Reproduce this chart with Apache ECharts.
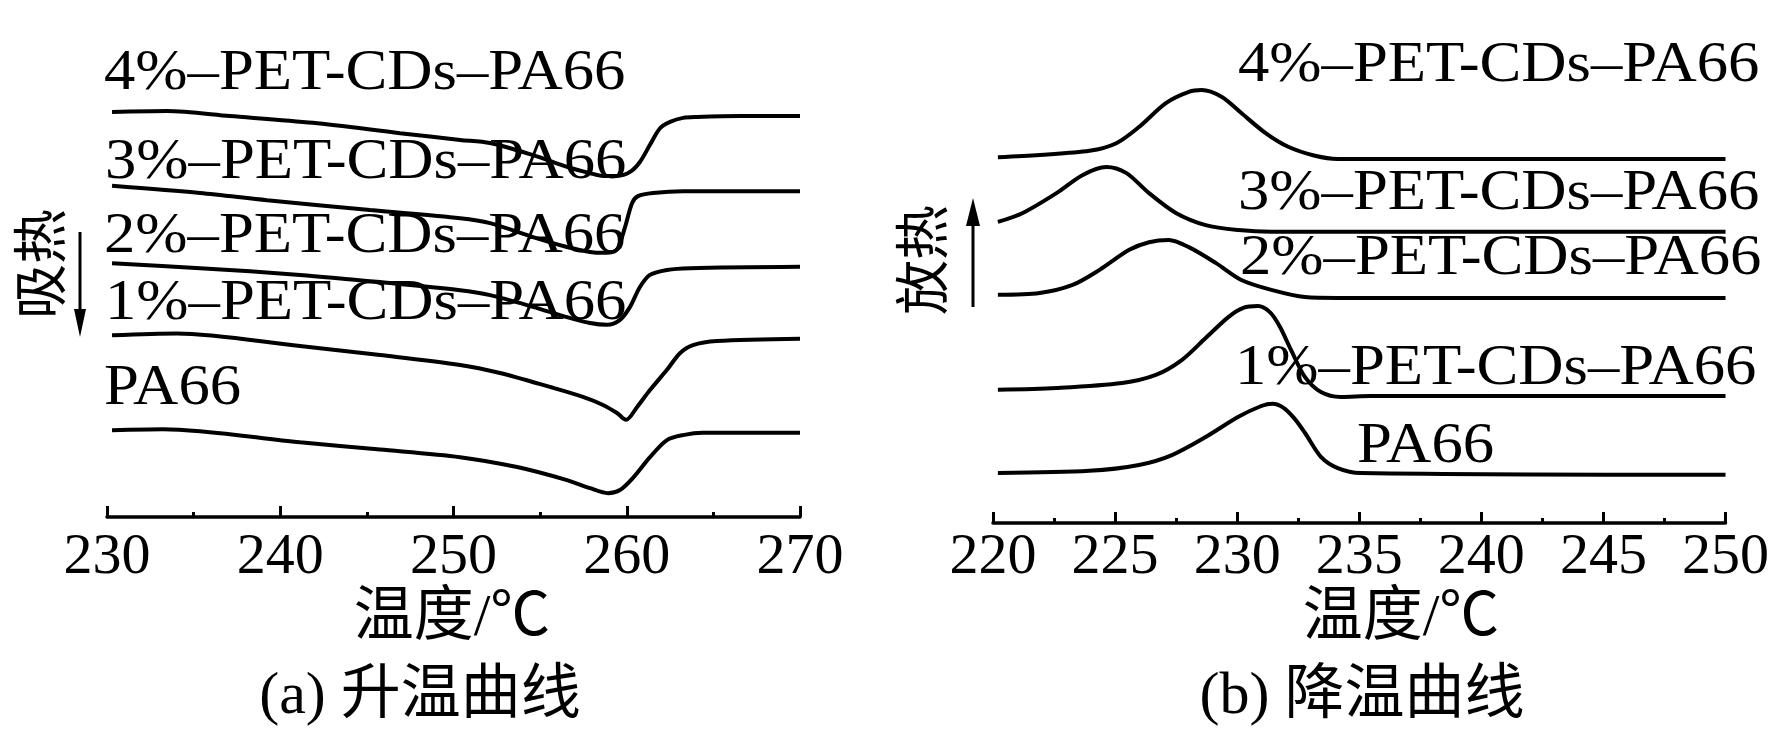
<!DOCTYPE html>
<html>
<head>
<meta charset="utf-8">
<script src="https://cdn.jsdelivr.net/npm/echarts@6/dist/echarts.min.js"></script>
<style>
html,body{margin:0;padding:0;background:#fff;}
#chart{width:1772px;height:749px;}
</style>
</head>
<body>
<div id="chart"></div>
<script>
// ---------- (a) heating curves: temperature (°C) and heat flow (a.u., endotherm down) ----------
const heatingTicks = [230, 240, 250, 260, 270];
const seriesNames = ['4%–PET-CDs–PA66', '3%–PET-CDs–PA66', '2%–PET-CDs–PA66', '1%–PET-CDs–PA66', 'PA66'];

const tA4 = [230.29, 233.46, 237.10, 241.89, 246.91, 250.38, 252.11, 254.59, 256.55, 257.88, 258.63, 259.44, 260.19, 260.76, 261.34, 261.92, 262.50, 263.25, 264.05, 266.54, 270.00];
const hA4 = [9.00, 9.02, 8.91, 8.76, 8.53, 8.38, 8.31, 8.04, 7.78, 7.64, 7.58, 7.58, 7.67, 7.89, 8.27, 8.64, 8.78, 8.87, 8.89, 8.91, 8.91];

const tA3 = [230.29, 235.37, 239.24, 245.18, 250.38, 252.11, 254.59, 256.55, 257.88, 258.63, 259.21, 259.50, 259.90, 260.31, 260.65, 261.52, 263.25, 270.00];
const hA3 = [7.36, 7.20, 7.04, 6.82, 6.64, 6.53, 6.22, 6.00, 5.89, 5.87, 5.89, 5.98, 6.44, 6.98, 7.13, 7.20, 7.24, 7.24];

const tA2 = [230.29, 235.37, 241.14, 245.76, 250.38, 252.11, 254.59, 256.55, 257.88, 258.86, 259.61, 260.19, 260.76, 261.34, 262.32, 263.65, 270.00];
const hA2 = [5.64, 5.53, 5.38, 5.22, 5.04, 4.93, 4.67, 4.44, 4.31, 4.27, 4.38, 4.67, 5.11, 5.38, 5.49, 5.53, 5.56];

const tA1 = [230.29, 234.04, 241.14, 245.76, 250.38, 252.68, 255.57, 257.47, 258.63, 259.44, 259.96, 260.59, 261.34, 262.32, 263.07, 263.82, 265.21, 270.00];
const hA1 = [4.04, 4.08, 3.80, 3.60, 3.38, 3.20, 2.89, 2.67, 2.49, 2.31, 2.16, 2.44, 2.82, 3.27, 3.64, 3.82, 3.91, 3.96];

const tA0 = [230.29, 233.23, 241.14, 245.76, 250.38, 253.67, 256.55, 257.88, 258.92, 259.61, 260.36, 261.34, 262.32, 263.25, 264.40, 270.00];
const hA0 = [1.93, 1.95, 1.66, 1.50, 1.33, 1.11, 0.82, 0.64, 0.53, 0.60, 0.87, 1.33, 1.71, 1.82, 1.87, 1.87];

// ---------- (b) cooling curves: temperature (°C) and heat flow (a.u., exotherm up) ----------
const coolingTicks = [220, 225, 230, 235, 240, 245, 250];

const tB4 = [220.20, 221.91, 223.95, 225.05, 225.98, 227.08, 228.02, 228.55, 229.36, 230.17, 231.15, 232.09, 233.19, 234.12, 236.16, 250.00];
const hB4 = [8.13, 8.18, 8.27, 8.44, 8.80, 9.33, 9.58, 9.62, 9.47, 9.11, 8.67, 8.36, 8.16, 8.09, 8.09, 8.09];

const tB3 = [220.20, 221.22, 222.60, 223.66, 224.64, 225.45, 226.39, 227.49, 228.71, 230.05, 231.40, 236.16, 250.00];
const hB3 = [6.69, 6.89, 7.33, 7.73, 7.91, 7.78, 7.33, 6.89, 6.62, 6.51, 6.47, 6.47, 6.47];

const tB2 = [220.20, 221.91, 223.26, 224.35, 225.58, 226.39, 227.20, 228.02, 229.12, 230.17, 231.40, 232.78, 234.12, 250.00];
const hB2 = [5.07, 5.11, 5.29, 5.62, 6.07, 6.24, 6.29, 6.13, 5.78, 5.40, 5.18, 5.02, 5.00, 5.00];

const tB1 = [220.20, 222.60, 225.29, 226.67, 227.73, 228.71, 229.65, 230.25, 230.85, 231.35, 231.75, 232.21, 232.78, 233.43, 234.25, 235.47, 250.00];
const hB1 = [2.96, 3.00, 3.11, 3.29, 3.62, 4.11, 4.58, 4.78, 4.82, 4.68, 4.36, 3.84, 3.24, 2.91, 2.80, 2.82, 2.82];

const tB0 = [220.20, 223.95, 225.98, 227.33, 228.71, 230.05, 230.99, 231.45, 231.90, 232.35, 232.78, 233.43, 234.12, 235.06, 250.00];
const hB0 = [1.11, 1.16, 1.29, 1.51, 1.91, 2.36, 2.60, 2.65, 2.56, 2.32, 2.00, 1.47, 1.22, 1.11, 1.07];

// ---------- build chart ----------
const zip = (xs, ys) => xs.map((x, i) => [x, ys[i]]);
const heatingSets = [[tA4, hA4], [tA3, hA3], [tA2, hA2], [tA1, hA1], [tA0, hA0]];
const coolingSets = [[tB4, hB4], [tB3, hB3], [tB2, hB2], [tB1, hB1], [tB0, hB0]];

const SERIF = "Liberation Serif";
const MIXED = "'Liberation Serif','Noto Sans CJK SC',serif";

function lineSeries(name, data, idx) {
  return {
    name: name, type: 'line', xAxisIndex: idx, yAxisIndex: idx,
    data: data, showSymbol: false, smooth: 0.3, silent: true,
    lineStyle: {color: '#000', width: 4}
  };
}

function xAxisCfg(grid, min, max, interval, margin) {
  return {
    type: 'value', gridIndex: grid, min: min, max: max, interval: interval,
    axisLine: {show: true, onZero: false, lineStyle: {color: '#000', width: 3.5}},
    axisTick: {show: true, inside: true, length: 11, lineStyle: {color: '#000', width: 3}},
    minorTick: {show: true, splitNumber: 2, length: 5, lineStyle: {color: '#000', width: 3}},
    splitLine: {show: false}, minorSplitLine: {show: false},
    axisLabel: {color: '#000', fontSize: 58, fontFamily: SERIF, margin: margin,
      formatter: v => String(v)}
  };
}
function yAxisCfg(grid) {
  return {type: 'value', gridIndex: grid, min: 0, max: 10, show: false};
}

function label(text, x, y) {
  return {type: 'text', x: x, y: y, scaleX: 1.1,
    style: {text: text, fill: '#000', font: "57px '" + SERIF + "'", align: 'left', verticalAlign: 'middle'}};
}

const leftLabelPos = [[104, 74], [105, 163], [104, 237], [105, 304], [104, 389]];
const rightLabelPos = [[1238, 66], [1238, 194], [1240, 259], [1235, 369], [1357, 447]];

const graphics = [];
seriesNames.forEach((n, i) => {
  graphics.push(label(n, leftLabelPos[i][0], leftLabelPos[i][1]));
  graphics.push(label(n, rightLabelPos[i][0], rightLabelPos[i][1]));
});
// axis titles and sub-captions
graphics.push({type: 'text', x: 452, y: 619, style: {text: '温度/℃', fill: '#000', font: "60px " + MIXED, align: 'center', verticalAlign: 'middle'}});
graphics.push({type: 'text', x: 1401, y: 619, style: {text: '温度/℃', fill: '#000', font: "60px " + MIXED, align: 'center', verticalAlign: 'middle'}});
graphics.push({type: 'text', x: 420, y: 697, style: {text: '(a) 升温曲线', fill: '#000', font: "60px " + MIXED, align: 'center', verticalAlign: 'middle'}});
graphics.push({type: 'text', x: 1362, y: 697, style: {text: '(b) 降温曲线', fill: '#000', font: "60px " + MIXED, align: 'center', verticalAlign: 'middle'}});
// y-direction labels with arrows
graphics.push({type: 'text', x: 39, y: 264, rotation: Math.PI / 2, style: {text: '吸热', fill: '#000', font: "55px 'Noto Sans CJK SC'", align: 'center', verticalAlign: 'middle'}});
graphics.push({type: 'line', shape: {x1: 80, y1: 232, x2: 80, y2: 314}, style: {stroke: '#000', lineWidth: 3}});
graphics.push({type: 'polygon', shape: {points: [[74, 309], [86, 309], [80, 337]]}, style: {fill: '#000'}});
graphics.push({type: 'text', x: 921, y: 260, rotation: Math.PI / 2, style: {text: '放热', fill: '#000', font: "55px 'Noto Sans CJK SC'", align: 'center', verticalAlign: 'middle'}});
graphics.push({type: 'line', shape: {x1: 973, y1: 307, x2: 973, y2: 222}, style: {stroke: '#000', lineWidth: 3}});
graphics.push({type: 'polygon', shape: {points: [[966, 226], [980, 226], [973, 198]]}, style: {fill: '#000'}});

const series = [];
heatingSets.forEach((s, i) => series.push(lineSeries(seriesNames[i], zip(s[0], s[1]), 0)));
coolingSets.forEach((s, i) => series.push(lineSeries(seriesNames[i], zip(s[0], s[1]), 1)));

const chart = echarts.init(document.getElementById('chart'), null, {renderer: 'canvas'});
chart.setOption({
  animation: false,
  backgroundColor: '#fff',
  grid: [
    {left: 107, width: 693, top: 67, height: 450, containLabel: false},
    {left: 993, width: 737, top: 73, height: 450, containLabel: false}
  ],
  xAxis: [
    xAxisCfg(0, heatingTicks[0], heatingTicks[heatingTicks.length - 1], 10, 12),
    xAxisCfg(1, coolingTicks[0], coolingTicks[coolingTicks.length - 1], 5, 6)
  ],
  yAxis: [yAxisCfg(0), yAxisCfg(1)],
  series: series,
  graphic: graphics
});
</script>
</body>
</html>
